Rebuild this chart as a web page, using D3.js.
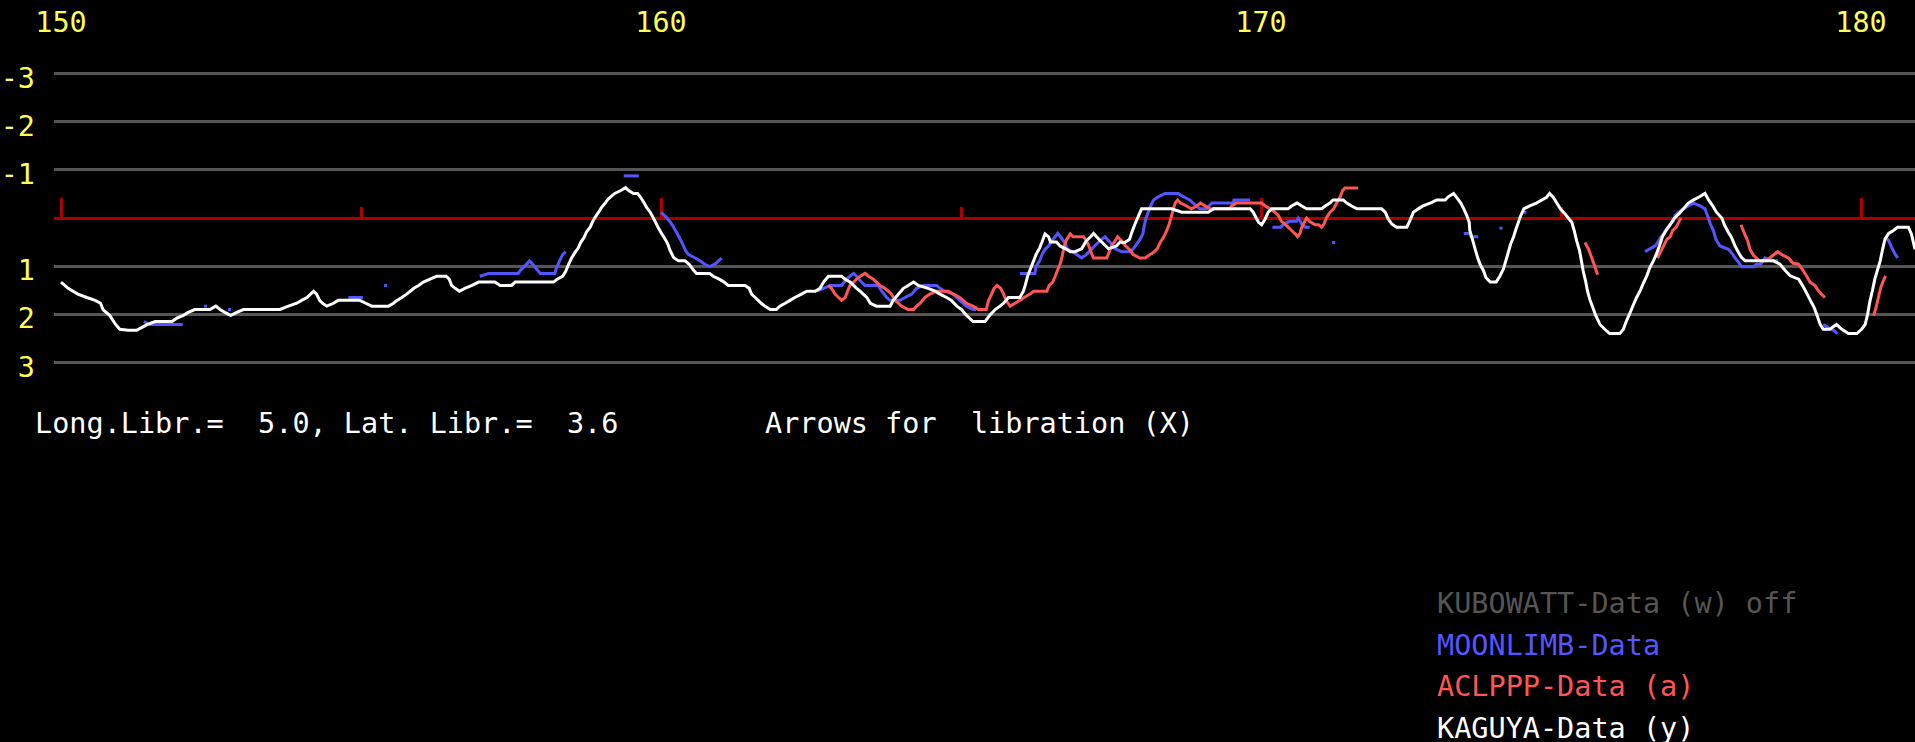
<!DOCTYPE html>
<html>
<head>
<meta charset="utf-8">
<script src="https://cdn.jsdelivr.net/npm/d3@7"></script>
<style>
  html, body { margin: 0; padding: 0; background: #000; overflow: hidden; }
  svg { display: block; }
  text { font-family: "DejaVu Sans Mono", "Liberation Mono", monospace; font-size: 28.5px; white-space: pre; }
</style>
</head>
<body>
<svg id="chart" width="1915" height="742"></svg>
<script>
// Longitude ticks along the limb profile (degrees) and the labelled ones
const lonTicks = [150, 155, 160, 165, 170, 175, 180];
const lonMajor = [150, 160, 170, 180];
const lonLabels = ["150", "160", "170", "180"];
// Height grid (km), 0 is the mean limb (red reference line)
const gridValues = [-3, -2, -1, 1, 2, 3];
const gridLabels = ["-3", "-2", "-1", "1", "2", "3"];

// KAGUYA profile: [longitude, height]
const kaguya = [
  [150.00,1.33],[150.12,1.46],[150.28,1.58],[150.43,1.65],[150.57,1.71],[150.66,1.77],[150.70,1.90],[150.81,2.02],
  [150.91,2.21],[150.98,2.31],[151.12,2.33],[151.26,2.33],[151.35,2.27],[151.44,2.21],[151.57,2.15],[151.85,2.15],
  [151.93,2.08],[152.04,2.02],[152.12,1.96],[152.23,1.90],[152.48,1.90],[152.58,1.83],[152.65,1.90],[152.73,1.96],
  [152.83,2.02],[152.93,1.96],[153.04,1.90],[153.65,1.90],[153.79,1.83],[153.93,1.77],[154.01,1.71],[154.10,1.65],
  [154.16,1.58],[154.21,1.52],[154.26,1.58],[154.31,1.71],[154.36,1.77],[154.43,1.83],[154.54,1.77],[154.62,1.71],
  [154.98,1.71],[155.08,1.77],[155.18,1.83],[155.46,1.83],[155.54,1.77],[155.60,1.71],[155.68,1.65],[155.76,1.58],
  [155.82,1.52],[155.88,1.46],[155.96,1.40],[156.04,1.33],[156.15,1.27],[156.26,1.21],[156.42,1.21],[156.47,1.27],
  [156.51,1.40],[156.57,1.46],[156.64,1.52],[156.73,1.46],[156.85,1.40],[156.96,1.33],[157.23,1.33],[157.32,1.40],
  [157.51,1.40],[157.57,1.33],[158.21,1.33],[158.27,1.27],[158.36,1.21],[158.41,1.11],[158.46,0.96],[158.51,0.83],
  [158.57,0.71],[158.62,0.625],[158.66,0.51],[158.72,0.40],[158.76,0.285],[158.82,0.19],[158.86,0.076],[158.91,-0.03],
  [158.96,-0.12],[159.01,-0.22],[159.07,-0.31],[159.11,-0.38],[159.16,-0.44],[159.23,-0.51],[159.33,-0.57],[159.41,-0.63],
  [159.46,-0.57],[159.54,-0.51],[159.61,-0.51],[159.66,-0.43],[159.72,-0.31],[159.76,-0.22],[159.82,-0.12],[159.86,-0.03],
  [159.91,0.09],[159.96,0.215],[160.01,0.32],[160.06,0.42],[160.11,0.53],[160.15,0.67],[160.21,0.82],[160.29,0.89],
  [160.40,0.89],[160.47,0.96],[160.54,1.08],[160.59,1.15],[160.81,1.15],[160.87,1.21],[160.97,1.27],[161.05,1.33],
  [161.12,1.40],[161.40,1.40],[161.47,1.46],[161.51,1.58],[161.57,1.65],[161.62,1.71],[161.67,1.77],[161.73,1.83],
  [161.82,1.90],[161.92,1.90],[161.98,1.83],[162.07,1.77],[162.15,1.71],[162.23,1.65],[162.34,1.58],[162.43,1.52],
  [162.57,1.52],[162.65,1.46],[162.71,1.33],[162.79,1.21],[163.01,1.21],[163.07,1.27],[163.15,1.33],[163.21,1.40],
  [163.26,1.46],[163.32,1.52],[163.37,1.58],[163.43,1.65],[163.49,1.77],[163.59,1.83],[163.82,1.83],[163.87,1.71],
  [163.96,1.58],[164.04,1.46],[164.12,1.40],[164.21,1.33],[164.29,1.40],[164.45,1.46],[164.57,1.52],[164.65,1.58],
  [164.76,1.65],[164.84,1.71],[164.93,1.83],[165.01,1.90],[165.09,2.02],[165.20,2.15],[165.40,2.15],[165.48,2.02],
  [165.57,1.90],[165.65,1.83],[165.71,1.77],[165.79,1.65],[165.98,1.65],[166.04,1.52],[166.07,1.40],[166.11,1.21],
  [166.15,1.08],[166.21,0.89],[166.25,0.76],[166.31,0.625],[166.35,0.50],[166.40,0.33],[166.46,0.39],[166.49,0.50],
  [166.59,0.50],[166.65,0.58],[166.76,0.65],[166.82,0.70],[166.90,0.70],[167.01,0.64],[167.09,0.47],[167.16,0.39],
  [167.21,0.32],[167.26,0.39],[167.32,0.47],[167.38,0.54],[167.46,0.64],[167.59,0.58],[167.65,0.50],[167.73,0.51],
  [167.81,0.44],[167.84,0.32],[167.90,0.125],[167.96,-0.05],[168.01,-0.19],[168.51,-0.19],[168.68,-0.12],[169.12,-0.12],
  [169.21,-0.19],[169.82,-0.19],[169.87,-0.12],[169.92,0.0],[169.96,0.09],[170.01,0.14],[170.07,0.02],[170.12,-0.12],
  [170.18,-0.19],[170.45,-0.19],[170.51,-0.25],[170.60,-0.31],[170.68,-0.25],[170.76,-0.19],[171.01,-0.19],[171.07,-0.25],
  [171.15,-0.31],[171.20,-0.375],[171.37,-0.375],[171.43,-0.31],[171.51,-0.25],[171.60,-0.19],[172.01,-0.19],[172.07,-0.12],
  [172.12,0.02],[172.18,0.125],[172.26,0.19],[172.43,0.19],[172.48,0.06],[172.54,-0.12],[172.62,-0.19],[172.70,-0.25],
  [172.82,-0.31],[172.93,-0.375],[173.07,-0.375],[173.12,-0.44],[173.21,-0.51],[173.26,-0.43],[173.33,-0.31],[173.38,-0.19],
  [173.43,-0.05],[173.47,0.09],[173.48,0.26],[173.53,0.47],[173.57,0.65],[173.61,0.82],[173.65,0.96],[173.71,1.10],
  [173.75,1.24],[173.82,1.33],[173.92,1.33],[173.98,1.21],[174.04,1.06],[174.08,0.89],[174.12,0.72],[174.16,0.54],
  [174.21,0.39],[174.25,0.23],[174.29,0.09],[174.33,-0.05],[174.38,-0.19],[174.48,-0.25],[174.59,-0.31],[174.68,-0.375],
  [174.76,-0.43],[174.81,-0.51],[174.87,-0.43],[174.93,-0.31],[174.99,-0.19],[175.07,-0.08],[175.12,0.0],[175.18,0.09],
  [175.22,0.26],[175.26,0.47],[175.31,0.68],[175.34,0.89],[175.37,1.10],[175.41,1.31],[175.44,1.51],[175.48,1.69],
  [175.53,1.86],[175.58,2.03],[175.65,2.21],[175.73,2.31],[175.81,2.40],[175.98,2.40],[176.04,2.31],[176.09,2.14],
  [176.15,1.97],[176.21,1.79],[176.26,1.65],[176.32,1.51],[176.37,1.36],[176.43,1.20],[176.48,1.03],[176.54,0.89],
  [176.59,0.75],[176.64,0.58],[176.69,0.39],[176.75,0.26],[176.82,0.14],[176.88,0.02],[176.96,-0.08],[177.04,-0.19],
  [177.12,-0.31],[177.21,-0.375],[177.31,-0.44],[177.40,-0.51],[177.46,-0.375],[177.53,-0.25],[177.59,-0.12],[177.68,0.0],
  [177.73,0.16],[177.79,0.30],[177.84,0.40],[177.90,0.58],[177.96,0.72],[178.01,0.82],[178.07,0.89],[178.54,0.89],
  [178.65,0.96],[178.73,1.08],[178.82,1.20],[178.96,1.27],[179.03,1.41],[179.09,1.55],[179.16,1.72],[179.22,1.86],
  [179.27,2.03],[179.32,2.21],[179.37,2.31],[179.48,2.31],[179.59,2.21],[179.68,2.31],[179.79,2.40],[179.93,2.40],
  [180.01,2.31],[180.07,2.21],[180.11,2.00],[180.15,1.72],[180.19,1.51],[180.23,1.27],[180.27,1.10],[180.32,0.89],
  [180.36,0.65],[180.40,0.44],[180.46,0.32],[180.54,0.26],[180.61,0.19],[180.79,0.19],[180.84,0.33],[180.90,0.65]
];

// MOONLIMB profile pieces (gaps where no data)
const moonlimb = [
  [[151.38,2.15],[151.48,2.21],[152.03,2.21]],
  [[152.41,1.83]],
  [[152.81,1.90]],
  [[153.18,1.90],[153.63,1.90]],
  [[154.79,1.65],[155.03,1.65]],
  [[155.41,1.40]],
  [[156.98,1.21],[157.13,1.15],[157.62,1.15],[157.66,1.08],[157.72,1.01],[157.81,0.89],[157.86,0.96],[157.94,1.08],
   [157.99,1.15],[158.23,1.15],[158.26,1.03],[158.31,0.89],[158.36,0.76],[158.41,0.70]],
  [[159.38,-0.875],[159.63,-0.875]],
  [[160.00,-0.12],[160.06,-0.05],[160.11,0.02],[160.16,0.09],[160.21,0.19],[160.26,0.30],[160.32,0.44],[160.36,0.54],
   [160.41,0.68],[160.46,0.76],[160.57,0.83],[160.65,0.89],[160.73,0.96],[160.81,1.01],[160.90,0.96],[160.96,0.89],[161.01,0.83]],
  [[162.59,1.52],[162.71,1.46],[162.82,1.40],[163.01,1.40],[163.09,1.27],[163.15,1.21],[163.21,1.15],[163.26,1.21],
   [163.34,1.33],[163.40,1.40],[163.62,1.40],[163.68,1.52],[163.76,1.65],[163.82,1.71],[163.98,1.71],[164.07,1.65],
   [164.18,1.58],[164.26,1.46],[164.37,1.40],[164.59,1.40],[164.65,1.46],[164.73,1.52],[164.87,1.58],[164.98,1.71],
   [165.09,1.83],[165.20,1.90],[165.25,1.90]],
  [[165.98,1.15],[166.23,1.15],[166.25,1.01],[166.31,0.89],[166.35,0.76],[166.40,0.65],[166.46,0.58],[166.51,0.47],
   [166.57,0.39],[166.61,0.32],[166.66,0.39],[166.72,0.50],[166.77,0.64],[166.86,0.70],[166.93,0.76],[167.01,0.83],
   [167.09,0.76],[167.18,0.64],[167.26,0.54],[167.34,0.45],[167.40,0.39],[167.46,0.47],[167.51,0.54],[167.57,0.64],
   [167.68,0.70],[167.82,0.70],[167.87,0.64],[167.93,0.54],[167.98,0.45],[168.03,0.33],[168.05,0.19],[168.08,0.02],
   [168.12,-0.12],[168.16,-0.25],[168.21,-0.375],[168.29,-0.44],[168.40,-0.51],[168.62,-0.51],[168.71,-0.44],[168.81,-0.375],
   [168.87,-0.31],[168.98,-0.19],[169.09,-0.19],[169.18,-0.31],[169.54,-0.31],[169.55,-0.375],[169.82,-0.375]],
  [[170.19,0.19],[170.33,0.19],[170.38,0.125],[170.48,0.07],[170.59,0.07],[170.62,0.0],[170.68,0.125],[170.74,0.19],[170.81,0.19]],
  [[171.21,0.51]],
  [[173.38,0.32],[173.48,0.32],[173.50,0.39],[173.62,0.39]],
  [[174.00,0.21]],
  [[174.40,-0.12]],
  [[176.40,0.70],[176.48,0.64],[176.57,0.58],[176.61,0.51],[176.66,0.40],[176.71,0.32],[176.76,0.23],[176.81,0.14],
   [176.87,0.07],[176.90,-0.05],[176.96,-0.12],[177.04,-0.19],[177.12,-0.25],[177.21,-0.31],[177.32,-0.25],[177.40,-0.19],
   [177.44,-0.05],[177.49,0.125],[177.54,0.26],[177.58,0.44],[177.65,0.58],[177.79,0.65],[177.86,0.75],[177.90,0.83],
   [177.96,0.92],[178.01,1.01],[178.21,1.01],[178.26,0.96],[178.33,0.96],[178.40,0.83],[178.51,0.89],[178.62,0.89]],
  [[179.37,2.21],[179.46,2.28],[179.54,2.33],[179.61,2.40]],
  [[180.40,0.39],[180.46,0.47],[180.51,0.61],[180.57,0.75],[180.61,0.83]]
];

// ACLPPP profile pieces
const aclppp = [
  [[162.79,1.40],[162.84,1.46],[162.90,1.58],[162.96,1.65],[163.01,1.71],[163.07,1.65],[163.11,1.52],[163.15,1.40],
   [163.21,1.33],[163.26,1.27],[163.32,1.21],[163.40,1.15],[163.46,1.21],[163.54,1.27],[163.59,1.33],[163.65,1.40],
   [163.73,1.46],[163.79,1.52],[163.84,1.58],[163.90,1.71],[163.96,1.77],[164.01,1.83],[164.12,1.90],[164.21,1.90],
   [164.26,1.83],[164.32,1.77],[164.40,1.65],[164.48,1.58],[164.59,1.52],[164.79,1.52],[164.87,1.58],[164.98,1.65],
   [165.09,1.77],[165.20,1.83],[165.29,1.90],[165.42,1.90],[165.46,1.71],[165.51,1.58],[165.55,1.46],[165.60,1.40],
   [165.66,1.46],[165.71,1.58],[165.75,1.71],[165.82,1.83],[165.90,1.77],[165.98,1.71],[166.05,1.65],[166.15,1.58],
   [166.21,1.52],[166.43,1.52],[166.47,1.40],[166.53,1.33],[166.57,1.21],[166.61,1.08],[166.65,0.96],[166.68,0.83],
   [166.71,0.65],[166.75,0.47],[166.82,0.33],[166.87,0.39],[167.04,0.39],[167.09,0.47],[167.14,0.61],[167.18,0.75],
   [167.21,0.83],[167.43,0.83],[167.47,0.70],[167.51,0.58],[167.57,0.47],[167.61,0.39],[167.66,0.45],[167.71,0.53],
   [167.76,0.60],[167.82,0.67],[167.87,0.76],[167.98,0.83],[168.07,0.83],[168.15,0.76],[168.22,0.70],[168.27,0.64],
   [168.32,0.51],[168.38,0.39],[168.43,0.26],[168.47,0.125],[168.51,-0.05],[168.54,-0.19],[168.57,-0.31],[168.61,-0.375],
   [168.66,-0.31],[168.76,-0.25],[168.84,-0.19],[168.93,-0.25],[168.99,-0.31],[169.07,-0.25],[169.15,-0.19],[169.48,-0.19],
   [169.51,-0.25],[169.59,-0.31],[170.01,-0.31],[170.07,-0.25],[170.15,-0.19],[170.23,-0.12],[170.29,-0.05],[170.34,0.07],
   [170.40,0.125],[170.45,0.19],[170.51,0.26],[170.57,0.33],[170.61,0.39],[170.65,0.32],[170.68,0.19],[170.73,0.07],
   [170.76,0.0],[170.81,0.07],[170.90,0.14],[170.96,0.14],[171.01,0.19],[171.05,0.125],[171.09,0.0],[171.15,-0.12],
   [171.21,-0.19],[171.26,-0.31],[171.32,-0.44],[171.36,-0.57],[171.40,-0.625],[171.62,-0.625]],
  [[175.40,0.51],[175.46,0.65],[175.51,0.82],[175.56,0.99],[175.61,1.18]],
  [[176.61,0.83],[176.66,0.70],[176.71,0.58],[176.76,0.45],[176.82,0.39],[176.86,0.26],[176.92,0.19],[176.96,0.09],[177.00,0.0]],
  [[178.00,0.14],[178.05,0.30],[178.11,0.47],[178.15,0.65],[178.21,0.78],[178.31,0.89],[178.43,0.89],[178.48,0.83],
   [178.61,0.70],[178.68,0.76],[178.79,0.83],[178.87,0.94],[178.96,0.96],[179.03,1.08],[179.09,1.20],[179.15,1.33],
   [179.23,1.40],[179.29,1.51],[179.34,1.58],[179.40,1.65]],
  [[180.21,2.03],[180.25,1.86],[180.29,1.65],[180.33,1.44],[180.37,1.31],[180.41,1.20]]
];

// Legend entries, top to bottom
const legendLabels = ["KUBOWATT-Data (w) off", "MOONLIMB-Data", "ACLPPP-Data (a)", "KAGUYA-Data (y)"];
const legendColors = ["#555555", "#5555ff", "#ff5555", "#ffffff"];

const libText = "Long.Libr.=  5.0, Lat. Libr.=  3.6";
const arrowText = "Arrows for  libration (X)";

const W = 1915, H = 742;
const svg = d3.select("#chart");
svg.append("rect").attr("width", W).attr("height", H).attr("fill", "#000");

const x = d3.scaleLinear().domain([150, 180]).range([61, 1861]);
const y = d3.scaleLinear().domain([-3, 3]).range([73.5, 362.5]);
const plotLeft = 54;

// horizontal grid
svg.append("g").selectAll("line").data(gridValues).join("line")
  .attr("x1", plotLeft).attr("x2", W)
  .attr("y1", d => y(d)).attr("y2", d => y(d))
  .attr("stroke", "#555555").attr("stroke-width", 3)
  .attr("shape-rendering", "crispEdges");

// zero line and longitude ticks
const axisG = svg.append("g");
axisG.append("line")
  .attr("x1", plotLeft).attr("x2", W)
  .attr("y1", y(0)).attr("y2", y(0))
  .attr("stroke", "#aa0000").attr("stroke-width", 3)
  .attr("shape-rendering", "crispEdges");
axisG.selectAll("line.tick").data(lonTicks).join("line")
  .attr("class", "tick")
  .attr("x1", d => x(d)).attr("x2", d => x(d))
  .attr("y1", y(0))
  .attr("y2", d => y(0) - (lonMajor.includes(d) ? 20 : 11))
  .attr("stroke", "#aa0000").attr("stroke-width", 3)
  .attr("shape-rendering", "crispEdges");

// axis labels
svg.append("g").selectAll("text").data(lonMajor).join("text")
  .attr("x", d => x(d)).attr("y", 32)
  .attr("text-anchor", "middle").attr("fill", "#ffff55")
  .text((d, i) => lonLabels[i]);
svg.append("g").selectAll("text").data(gridValues).join("text")
  .attr("x", 35).attr("y", d => y(d) + 14)
  .attr("text-anchor", "end").attr("fill", "#ffff55")
  .text((d, i) => gridLabels[i]);

const line = d3.line().x(d => x(d[0])).y(d => y(d[1]));

function drawPieces(pieces, color) {
  const g = svg.append("g");
  pieces.forEach(p => {
    if (p.length === 1) {
      g.append("rect")
        .attr("x", x(p[0][0]) - 1.5).attr("y", y(p[0][1]) - 1.5)
        .attr("width", 3).attr("height", 3).attr("fill", color);
    } else {
      g.append("path").attr("d", line(p))
        .attr("fill", "none").attr("stroke", color)
        .attr("stroke-width", 3).attr("stroke-linejoin", "miter");
    }
  });
}

drawPieces(moonlimb, "#5555ff");
drawPieces(aclppp, "#ff5555");
drawPieces([kaguya], "#ffffff");

// libration info line
svg.append("text").attr("x", 35).attr("y", 433).attr("fill", "#ffffff").text(libText);
svg.append("text").attr("x", 765).attr("y", 433).attr("fill", "#ffffff").text(arrowText);

// legend
svg.append("g").selectAll("text").data(legendLabels).join("text")
  .attr("x", 1437).attr("y", (d, i) => 613 + i * 41.7)
  .attr("fill", (d, i) => legendColors[i])
  .text(d => d);
</script>
</body>
</html>
